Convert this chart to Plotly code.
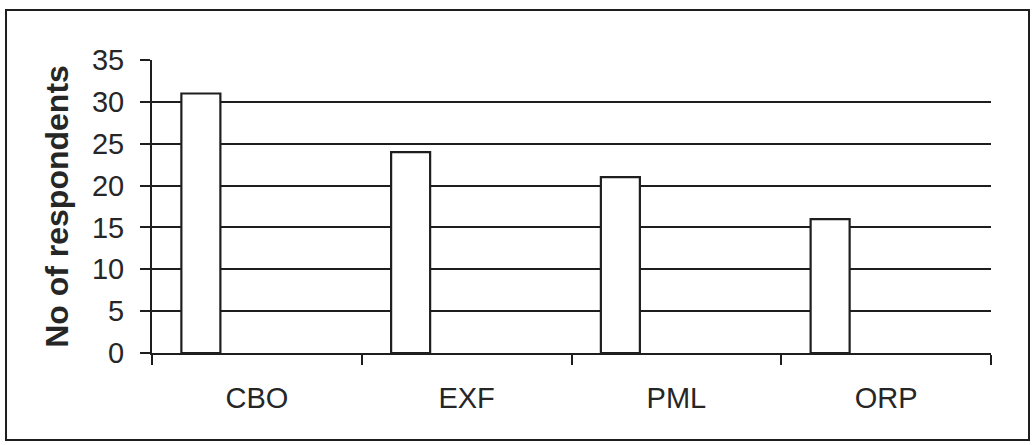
import plotly.graph_objects as go

# Survey counts per category
categories = ["CBO", "EXF", "PML", "ORP"]
respondents = [31, 24, 21, 16]
y_ticks = [0, 5, 10, 15, 20, 25, 30, 35]

line_col = "#1e1e1e"
text_col = "#262626"
font_family = "Liberation Sans, Arial, sans-serif"

fig = go.Figure()
fig.add_trace(go.Bar(
    x=categories,
    y=respondents,
    width=0.186,
    offset=-0.36,
    marker=dict(color="white", line=dict(color=line_col, width=2.2)),
    showlegend=False,
))

fig.update_layout(
    width=1032,
    height=445,
    margin=dict(l=152, r=41, t=60, b=92),
    paper_bgcolor="white",
    plot_bgcolor="white",
    font=dict(family=font_family, color=text_col),
    xaxis=dict(
        type="category",
        range=[-0.5, 3.5],
        showline=True,
        linecolor=line_col,
        linewidth=2,
        ticks="outside",
        tickson="boundaries",
        ticklen=10,
        tickwidth=2,
        tickcolor=line_col,
        showgrid=False,
        tickfont=dict(size=29, color=text_col),
        ticklabelstandoff=18,
    ),
    yaxis=dict(
        range=[0, 35],
        tickvals=y_ticks,
        showline=True,
        linecolor=line_col,
        linewidth=2,
        ticks="outside",
        ticklen=10,
        tickwidth=2,
        tickcolor=line_col,
        showgrid=True,
        gridcolor=line_col,
        gridwidth=1.8,
        zeroline=False,
        tickfont=dict(size=29, color=text_col),
        ticklabelstandoff=10,
        title=dict(
            text="<b>No of respondents</b>",
            font=dict(size=32, color=text_col, family=font_family),
            standoff=14,
        ),
    ),
    shapes=[
        dict(
            type="rect",
            xref="paper", yref="paper",
            x0=-0.174, x1=1.0453,
            y0=-0.297, y1=1.1706,
            line=dict(color=line_col, width=2),
            fillcolor="rgba(0,0,0,0)",
            layer="below",
        )
    ],
)

fig.write_html("out.html")
